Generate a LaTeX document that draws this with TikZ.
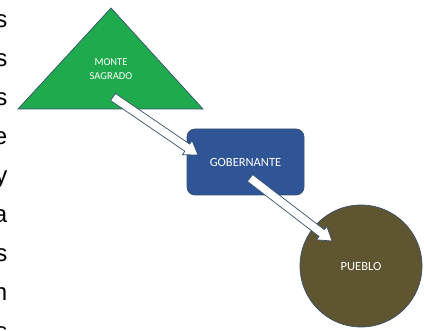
\documentclass[tikz,border=0pt]{standalone}
\usepackage{fontspec}
\setmainfont{Carlito}
\newfontfamily\arialf{Liberation Sans}
\usetikzlibrary{calc}
\definecolor{trifill}{HTML}{1FAA4E}
\definecolor{rectfill}{HTML}{2F5597}
\definecolor{circfill}{HTML}{5F5531}
\definecolor{edgecol}{HTML}{34506E}
\tikzset{
  lbl/.style={text=white, inner sep=0pt, align=center, font=\fontsize{12.5}{15}\selectfont},
  smalllbl/.style={text=white, inner sep=0pt, align=center, font=\fontsize{10.5}{14}\selectfont},
  sidetext/.style={anchor=base east, inner sep=0pt, font=\arialf\fontsize{24}{28}\selectfont},
  arrowbox/.style={draw=edgecol, fill=white, line width=0.7pt, line join=miter},
  shapeedge/.style={draw=edgecol, line width=0.7pt}
}
\newcommand\blockarrow[2]{%
  \draw[arrowbox] let \p1=(#1), \p2=(#2),
    \n1={atan2(\y2-\y1,\x2-\x1)}, \n2={veclen(\x2-\x1,\y2-\y1)} in
    [shift={(\p1)}, rotate=\n1]
    (0,-4.3) -- (\n2-13,-4.3) -- (\n2-13,-8.5) -- (\n2,0) -- (\n2-13,8.5) -- (\n2-13,4.3) -- (0,4.3) -- cycle;}
\begin{document}
\begin{tikzpicture}[x=1pt,y=-1pt]
\useasboundingbox (0,0) rectangle (424,331);
% left column text fragments
\foreach \t/\b [count=\i] in {s/28,s/67,s/106,e/145,y/184,a/223,s/262,n/301,s/340}
  \node[sidetext] (side\i) at (7.5,\b) {\t};
% triangle
\draw[shapeedge, fill=trifill] (18,109) -- (111,8) -- (203,109) -- cycle;
\node[smalllbl] (monte) at (111,69) {MONTE\\SAGRADO};
% rectangle
\node[shapeedge, fill=rectfill, rounded corners=8pt, minimum width=117pt, minimum height=66pt, inner sep=0pt] (gob) at (245.5,162) {};
\node[lbl] (gobt) at (gob.center) {GOBERNANTE};
% circle
\node[shapeedge, fill=circfill, circle, minimum size=122pt, inner sep=0pt] (pueblo) at (361,266) {};
\node[lbl] (pueblot) at (pueblo.center) {PUEBLO};
% arrows
\coordinate (a1s) at (113,97);
\coordinate (a1e) at (198,155);
\coordinate (a2s) at (250,178);
\coordinate (a2e) at (332,241);
\blockarrow{a1s}{a1e}
\blockarrow{a2s}{a2e}
\end{tikzpicture}
\end{document}
